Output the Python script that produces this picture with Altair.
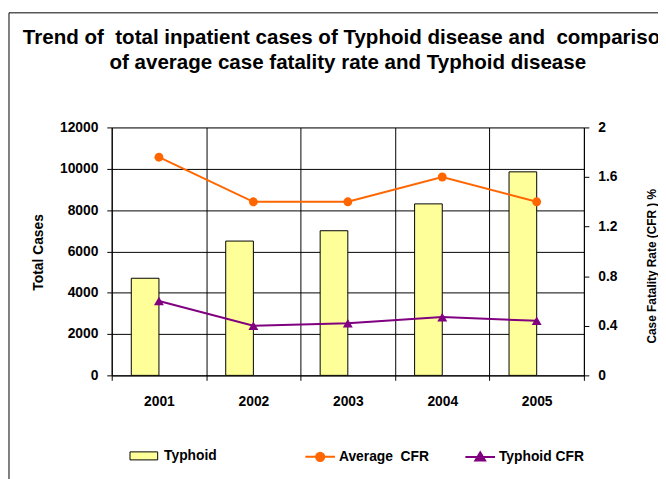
import altair as alt
import pandas as pd

# ---- data ----
years = ["2001", "2002", "2003", "2004", "2005"]
typhoid_cases = [4700, 6500, 7000, 8300, 9850]
avg_cfr = [1.76, 1.40, 1.40, 1.60, 1.40]
typhoid_cfr = [0.60, 0.40, 0.42, 0.47, 0.44]

bar_series = ["Typhoid"]
bar_fill = "#FFFF99"
line_series = ["Average\u00a0 CFR", "Typhoid CFR"]
line_colors = ["#FF6600", "#800080"]

left_ticks = [0, 2000, 4000, 6000, 8000, 10000, 12000]
right_ticks = [0, 0.4, 0.8, 1.2, 1.6, 2]

title_lines = [
    "Trend of\u00a0 total inpatient cases of Typhoid disease and\u00a0 comparison",
    "of average case fatality rate and Typhoid disease",
]
left_title = "Total Cases"
right_title = "Case Fatality Rate (CFR ) %"

FONT = "Liberation Sans"

bars_df = pd.DataFrame({"year": years, "cases": typhoid_cases, "series": bar_series * len(years)})
cfr_df = pd.DataFrame({
    "year": years * 2,
    "series": [line_series[0]] * len(years) + [line_series[1]] * len(years),
    "cfr": avg_cfr + typhoid_cfr,
})
frame_df = pd.DataFrame({"frame": [0]})

x_enc = alt.X(
    "year:N",
    title=None,
    scale=alt.Scale(paddingInner=0, paddingOuter=0),
    axis=alt.Axis(
        tickBand="extent", grid=True, gridColor="black", gridOpacity=1, gridWidth=1,
        labelAngle=0, labelFont=FONT, labelFontSize=14, labelFontWeight="bold",
        labelColor="black", labelPadding=15, tickSize=5, tickColor="black",
        domainColor="black",
    ),
)

# outer chart frame
frame = alt.Chart(frame_df).mark_rect(fill="transparent", stroke="black", strokeWidth=1).encode(
    x=alt.value(-104), y=alt.value(-116), x2=alt.value(700), y2=alt.value(500)
)

bars = alt.Chart(bars_df).mark_bar(
    width=28, xOffset=-14, fill=bar_fill, stroke="black", strokeWidth=1
).encode(
    x=x_enc,
    y=alt.Y(
        "cases:Q",
        scale=alt.Scale(domain=[0, 12000], nice=False),
        axis=alt.Axis(
            values=left_ticks, format="d", title=left_title,
            titleFont=FONT, titleFontSize=14, titleFontWeight="bold", titleColor="black",
            titleX=-74, titleY=126, titleAlign="center", titleBaseline="middle",
            labelFont=FONT, labelFontSize=14, labelFontWeight="bold", labelColor="black",
            labelPadding=9, tickSize=5, tickColor="black", domainColor="black",
            grid=True, gridColor="black", gridOpacity=1, gridWidth=1,
        ),
    ),
)

y_right = alt.Y(
    "cfr:Q",
    scale=alt.Scale(domain=[0, 2], nice=False),
    axis=alt.Axis(
        orient="right", values=right_ticks, format="~g", title=right_title,
        titleFont=FONT, titleFontSize=12, titleFontWeight="bold", titleColor="black",
        titleAngle=270, titleX=68, titleY=140, titleAlign="center", titleBaseline="middle",
        labelFont=FONT, labelFontSize=14, labelFontWeight="bold", labelColor="black",
        labelPadding=9, tickSize=5, tickColor="black", domainColor="black", grid=False,
    ),
)


def series_layers(name, color, shape, size):
    base = alt.Chart(cfr_df).transform_filter(alt.datum.series == name)
    ln = base.mark_line(strokeWidth=2, color=color).encode(x=x_enc, y=y_right)
    pt = base.mark_point(filled=True, opacity=1, shape=shape, size=size, color=color).encode(x=x_enc, y=y_right)
    return [ln, pt]


cfr_layer = alt.layer(
    *series_layers(line_series[0], line_colors[0], "circle", 81),
    *series_layers(line_series[1], line_colors[1], "triangle-up", 100),
)

# legends (legend-only layers, no marks drawn)
avg_path = "M-1,0H1M0.28,0A0.28,0.28,0,1,1,-0.28,0A0.28,0.28,0,1,1,0.28,0Z"
typ_path = "M-1,0H1M0,-0.32L0.33,0.24L-0.33,0.24Z"
rect_path = "M-1,-0.29H1V0.29H-1Z"

line_legend = alt.Legend(
    orient="none", legendX=195, legendY=317, direction="horizontal", padding=0,
    symbolSize=900, symbolStrokeWidth=2, labelFont=FONT, labelFontSize=14,
    labelFontWeight="bold", labelColor="black", labelOffset=3, columnPadding=32,
)
legend_lines = alt.Chart(cfr_df).transform_filter("false").mark_point(
    filled=True, opacity=1, strokeWidth=2
).encode(
    shape=alt.Shape("series:N", title=None, scale=alt.Scale(domain=line_series, range=[avg_path, typ_path]), legend=line_legend),
    fill=alt.Fill("series:N", title=None, scale=alt.Scale(domain=line_series, range=line_colors), legend=line_legend),
    stroke=alt.Stroke("series:N", title=None, scale=alt.Scale(domain=line_series, range=line_colors), legend=line_legend),
)

legend_bar = alt.Chart(bars_df).transform_filter("false").mark_point(
    filled=True, opacity=1, shape=rect_path, fill=bar_fill, strokeWidth=1
).encode(
    stroke=alt.Stroke(
        "series:N", title=None,
        scale=alt.Scale(domain=bar_series, range=["black"]),
        legend=alt.Legend(
            orient="none", legendX=18, legendY=318, direction="horizontal", padding=0,
            symbolType=rect_path, symbolSize=784, symbolStrokeWidth=1,
            symbolFillColor=bar_fill,
            labelFont=FONT, labelFontSize=14, labelFontWeight="bold", labelColor="black",
            labelOffset=6,
        ),
    )
)

chart = alt.layer(frame, bars, cfr_layer, legend_lines, legend_bar).resolve_scale(
    y="independent", fill="independent", stroke="independent", shape="independent"
).properties(
    width=478,
    height=251,
    padding={"left": 105, "top": 118, "right": 75, "bottom": 102},
    autosize=alt.AutoSizeParams(type="none"),
    title=alt.TitleParams(
        text=title_lines, font=FONT, fontSize=20.8, fontWeight="bold", color="black",
        anchor="middle", lineHeight=25, offset=0, baseline="top", dy=62,
    ),
).configure_view(
    fill="#C0C0C0", stroke="black", strokeWidth=1
).configure(background="white")

chart.save("out.html", embed_options={"renderer": "svg", "actions": False})
